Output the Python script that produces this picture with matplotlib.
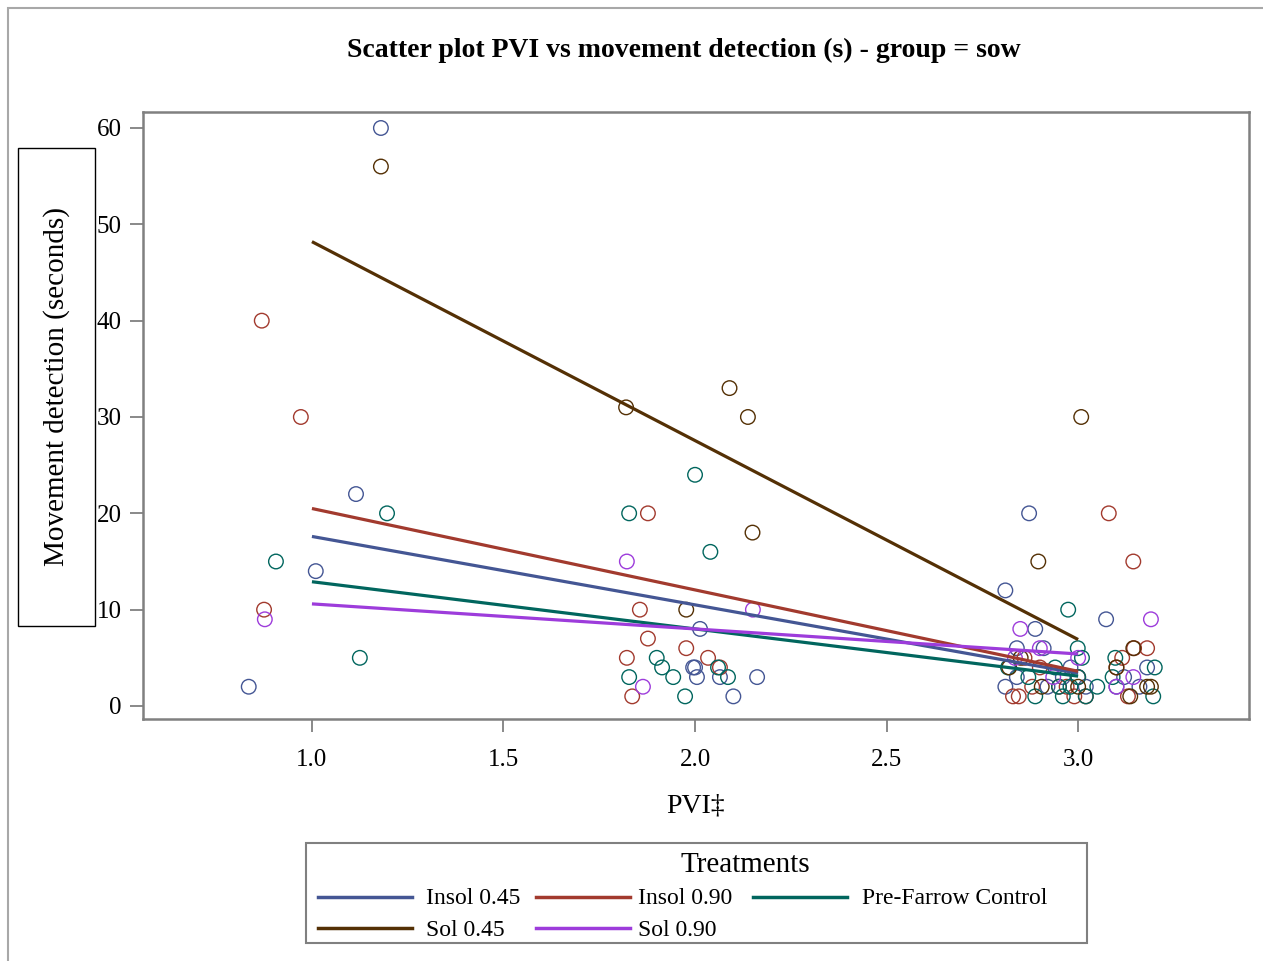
import matplotlib
matplotlib.use("Agg")
import matplotlib.pyplot as plt
from matplotlib.lines import Line2D
from matplotlib.patches import Rectangle

plt.rcParams['font.family'] = ['Liberation Serif', 'DejaVu Serif']

# ---------------- data ----------------
treatments = ["Insol 0.45", "Insol 0.90", "Pre-Farrow Control", "Sol 0.45", "Sol 0.90"]
colors = ["#445694", "#A23A2E", "#01665E", "#543005", "#9D3CDB"]

insol045_x = [0.835, 1.01, 1.115, 1.18, 1.995, 2.0, 2.005, 2.013, 2.065, 2.10, 2.162,
              2.81, 2.872, 2.84, 2.888, 2.91, 2.81, 2.84, 2.92, 2.96, 3.0, 3.073,
              3.10, 3.12, 3.16, 3.18, 2.98, 3.02]
insol045_y = [2, 14, 22, 60, 4, 4, 3, 8, 3, 1, 3,
              12, 20, 6, 8, 6, 2, 3, 2, 3, 3, 9,
              2, 3, 2, 4, 4, 2]

insol090_x = [0.869, 0.971, 0.875, 1.877, 1.856, 1.877, 1.822, 1.836, 1.977, 2.034, 2.065,
              3.08, 3.144, 3.18, 3.146, 3.115, 2.83, 2.845, 2.86, 2.90, 2.95, 2.99,
              3.0, 3.02, 3.13, 3.10, 2.97, 2.88]
insol090_y = [40, 30, 10, 20, 10, 7, 5, 1, 6, 5, 4,
              20, 15, 6, 6, 5, 1, 1, 5, 4, 2, 1,
              3, 1, 1, 4, 2, 2]

prefarrow_x = [0.906, 1.196, 1.125, 1.828, 2.0, 2.04, 1.828, 1.90, 1.914, 1.943, 1.974,
               2.06, 2.086, 2.974, 2.999, 3.097, 3.20, 3.196, 3.05, 2.888, 2.817, 2.87,
               2.96, 2.98, 3.0, 3.01, 3.09, 2.95, 3.02, 2.94]
prefarrow_y = [15, 20, 5, 20, 24, 16, 3, 5, 4, 3, 1,
               4, 3, 10, 6, 5, 4, 1, 2, 1, 4, 3,
               1, 2, 3, 5, 3, 2, 1, 4]

sol045_x = [1.18, 1.82, 2.09, 2.138, 2.15, 1.977, 3.008, 2.896, 3.144, 3.10, 2.82,
            2.905, 2.85, 3.136, 3.19, 3.18, 3.0]
sol045_y = [56, 31, 33, 30, 18, 10, 30, 15, 6, 4, 4,
            2, 5, 1, 2, 2, 2]

sol090_x = [0.877, 1.822, 1.864, 2.151, 2.849, 3.19, 2.935, 3.144, 3.10, 2.835, 2.90, 3.0]
sol090_y = [9, 15, 2, 10, 8, 9, 3, 3, 2, 5, 6, 5]

# regression fit line end points (x from 1.0 to 3.0)
fit_x = [1.0, 3.0]
fit_insol045 = [17.6, 3.4]
fit_insol090 = [20.5, 3.6]
fit_prefarrow = [12.9, 3.1]
fit_sol045 = [48.2, 6.9]
fit_sol090 = [10.6, 5.4]

xticks = [1.0, 1.5, 2.0, 2.5, 3.0]
yticks = [0, 10, 20, 30, 40, 50, 60]

series_x = [insol045_x, insol090_x, prefarrow_x, sol045_x, sol090_x]
series_y = [insol045_y, insol090_y, prefarrow_y, sol045_y, sol090_y]
fits = [fit_insol045, fit_insol090, fit_prefarrow, fit_sol045, fit_sol090]

# ---------------- figure ----------------
W, H = 1263, 961
fig = plt.figure(figsize=(W / 100, H / 100), dpi=100)

def fx(px):
    return px / W

def fy(py):
    return 1 - py / H

ax = fig.add_axes([fx(143), fy(719), fx(1249) - fx(143), fy(112) - fy(719)])
ax.set_xlim(0.559, 3.446)
ax.set_ylim(-1.35, 61.66)

for xs, ys, c in zip(series_x, series_y, colors):
    ax.scatter(xs, ys, s=110, facecolors='none', edgecolors=c, linewidths=1.0, zorder=3)
for f, c in zip(fits, colors):
    ax.plot(fit_x, f, color=c, lw=2.3, zorder=4, solid_capstyle='butt')

ax.set_xticks(xticks)
ax.set_xticklabels([f"{v:.1f}" for v in xticks])
ax.set_yticks(yticks)
ax.set_yticklabels([str(v) for v in yticks])
ax.tick_params(axis='both', direction='out', length=9.5, width=1.3, color='#808080',
               labelsize=18, pad=6)
ax.tick_params(axis='x', pad=12)
for sp in ax.spines.values():
    sp.set_color('#808080')
    sp.set_linewidth(1.8)

ax.set_xlabel("PVI\u2021", fontsize=20)
ax.xaxis.set_label_coords(0.5, (719 - 806) / 607)
ax.xaxis.label.set_va('center')

# title
fig.text(fx(684), fy(50), "Scatter plot PVI vs movement detection (s) - group = sow",
         ha='center', va='center', fontsize=20, fontweight='bold')

# outer border
fig.add_artist(Rectangle((fx(8), -0.1), 1.2, fy(8) + 0.1, transform=fig.transFigure,
                         fill=False, edgecolor='#A8A8A8', lw=1.5, zorder=0))

# y-label box drawn over tick labels
fig.add_artist(Rectangle((fx(18), fy(626)), fx(95) - fx(18), fy(148) - fy(626),
                         transform=fig.transFigure, facecolor='white', edgecolor='black',
                         lw=1.0, zorder=5))
fig.text(fx(57), fy(387), "Movement detection (seconds)", rotation=90, ha='center',
         va='center', fontsize=21, zorder=6)

# legend (manual)
fig.add_artist(Rectangle((fx(306), fy(943)), fx(1087) - fx(306), fy(843) - fy(943),
                         transform=fig.transFigure, facecolor='white', edgecolor='#808080',
                         lw=1.5, zorder=5))
fig.text(fx(745), fy(865), "Treatments", ha='center', va='center', fontsize=21, zorder=6)
leg_pos = [(318, 897), (536, 897), (753, 897), (318, 928), (536, 928)]
leg_txt_off = [108, 102, 109, 108, 102]
for (lx, ly), off, name, c in zip(leg_pos, leg_txt_off, treatments, colors):
    fig.add_artist(Line2D([fx(lx), fx(lx + 94)], [fy(ly), fy(ly)], transform=fig.transFigure,
                          color=c, lw=2.5, zorder=6))
    fig.text(fx(lx + off), fy(ly + 2), name, ha='left', va='center', fontsize=17, zorder=6)

fig.savefig("out.png", dpi=100)
